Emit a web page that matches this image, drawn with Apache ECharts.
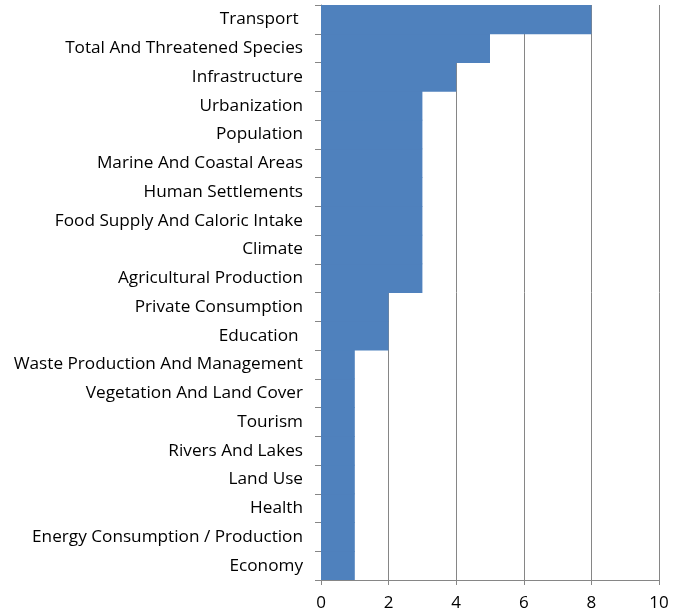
<!DOCTYPE html>
<html>
<head>
<meta charset="utf-8">
<script src="https://cdn.jsdelivr.net/npm/echarts@6/dist/echarts.min.js"></script>
<style>
  html, body { margin: 0; padding: 0; background: #fff; }
  #chart { width: 678px; height: 616px; }
</style>
</head>
<body>
<div id="chart"></div>
<script>
// Themes, listed bottom to top as they appear on the vertical axis
const categories = [
  'Economy',
  'Energy Consumption / Production',
  'Health',
  'Land Use',
  'Rivers And Lakes',
  'Tourism',
  'Vegetation And Land Cover',
  'Waste Production And Management',
  'Education ',
  'Private Consumption',
  'Agricultural Production',
  'Climate',
  'Food Supply And Caloric Intake',
  'Human Settlements',
  'Marine And Coastal Areas',
  'Population',
  'Urbanization',
  'Infrastructure',
  'Total And Threatened Species',
  'Transport '
];
const counts = [1, 1, 1, 1, 1, 1, 1, 1, 2, 2, 3, 3, 3, 3, 3, 3, 3, 4, 5, 8];
const xTicks = [0, 2, 4, 6, 8, 10];

const axisGray = '#868686';
const barBlue = '#4f81bd';
const font = "'Open Sans', 'Liberation Sans', sans-serif";

const chart = echarts.init(document.getElementById('chart'), null, { renderer: 'canvas' });
chart.setOption({
  animation: false,
  backgroundColor: '#ffffff',
  grid: { left: 321, right: 19, top: 5, bottom: 36, containLabel: false },
  xAxis: {
    type: 'value',
    min: xTicks[0],
    max: xTicks[xTicks.length - 1],
    interval: 2,
    axisLine: { show: true, lineStyle: { color: axisGray, width: 1 } },
    axisTick: { show: true, length: 5, lineStyle: { color: axisGray } },
    splitLine: { show: true, lineStyle: { color: axisGray, width: 1 } },
    axisLabel: { color: '#000', fontFamily: font, fontSize: 17, margin: 15 }
  },
  yAxis: {
    type: 'category',
    data: categories,
    axisLine: { show: true, lineStyle: { color: axisGray, width: 1 } },
    axisTick: { show: true, length: 6, alignWithLabel: false, lineStyle: { color: axisGray } },
    axisLabel: { color: '#000', fontFamily: font, fontSize: 17.2, margin: 18, interval: 0 }
  },
  series: [{
    type: 'bar',
    data: counts,
    // slightly wider than the band so adjacent bars merge into one stepped shape
    barWidth: 29.5,
    itemStyle: { color: barBlue },
    z: 3
  }]
});
</script>
</body>
</html>
